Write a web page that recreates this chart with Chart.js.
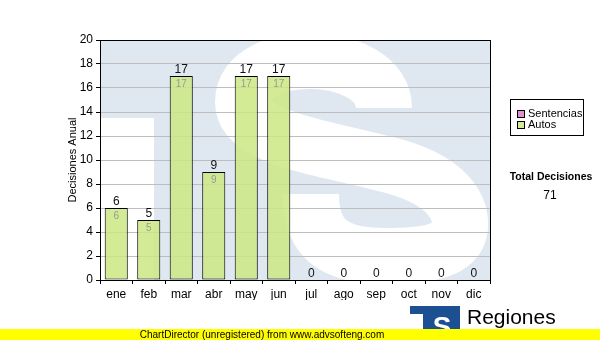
<!DOCTYPE html>
<html>
<head>
<meta charset="utf-8">
<script src="https://cdn.jsdelivr.net/npm/chart.js@4.4.1/dist/chart.umd.min.js"></script>
<style>
    body { margin: 0; background: #fff; }
    canvas { display: block; }
</style>
</head>
<body>
<canvas id="graficoDecisiones" width="600" height="340"></canvas>
<script>
const meses = ['ene', 'feb', 'mar', 'abr', 'may', 'jun', 'jul', 'ago', 'sep', 'oct', 'nov', 'dic'];
const sentencias = [0, 0, 0, 0, 0, 0, 0, 0, 0, 0, 0, 0];
const autos = [6, 5, 17, 9, 17, 17, 0, 0, 0, 0, 0, 0];
const ticksY = [0, 2, 4, 6, 8, 10, 12, 14, 16, 18, 20];
const totalDecisiones = 71;

const fuente = '"Liberation Sans", Arial, sans-serif';
const azulClaro = '#dfe8f1';

// marca de agua "TS" + leyenda, total y pie
const decorado = {
    id: 'decorado',
    beforeDraw(chart) {
        const ctx = chart.ctx;
        const a = chart.chartArea;
        ctx.save();
        ctx.beginPath();
        ctx.rect(a.left, a.top, a.right - a.left, a.bottom - a.top);
        ctx.clip();
        ctx.fillStyle = azulClaro;
        ctx.fillRect(a.left, a.top, a.right - a.left, a.bottom - a.top);
        // hueco blanco bajo el brazo de la T
        ctx.fillStyle = '#fff';
        ctx.fillRect(a.left, 118, 54, a.bottom - 118);
        // la S blanca
        ctx.strokeStyle = '#fff';
        ctx.lineWidth = 56;
        ctx.lineCap = 'butt';
        ctx.beginPath();
        ctx.moveTo(384, 108);
        ctx.bezierCurveTo(384, 48, 243, 45, 243, 102);
        ctx.bezierCurveTo(243, 140, 330, 148, 400, 168);
        ctx.bezierCurveTo(445, 182, 461, 205, 460, 226);
        ctx.bezierCurveTo(459, 252, 425, 256, 385, 256);
        ctx.bezierCurveTo(335, 256, 311, 240, 311, 194);
        ctx.stroke();
        ctx.restore();
    },
    afterDraw(chart) {
        const ctx = chart.ctx;
        const a = chart.chartArea;
        ctx.save();
        // marco del area
        ctx.strokeStyle = '#000';
        ctx.lineWidth = 1;
        ctx.strokeRect(a.left + 0.5, a.top + 0.5, a.right - a.left, a.bottom - a.top);

        // titulo eje Y
        ctx.translate(73, (a.top + a.bottom) / 2);
        ctx.rotate(-Math.PI / 2);
        ctx.fillStyle = '#000';
        ctx.font = '11px ' + fuente;
        ctx.textAlign = 'center';
        ctx.textBaseline = 'middle';
        ctx.fillText('Decisiones Anual', 0, 0);
        ctx.setTransform(1, 0, 0, 1, 0, 0);

        // leyenda
        ctx.strokeStyle = '#000';
        ctx.strokeRect(510.5, 99.5, 73, 36);
        ctx.font = '11px ' + fuente;
        ctx.textAlign = 'left';
        ctx.textBaseline = 'middle';
        const items = [['Sentencias', '#e08fd0', 114], ['Autos', '#d5eb95', 125]];
        items.forEach(function (it) {
            ctx.fillStyle = it[1];
            ctx.fillRect(517, it[2] - 4, 8, 8);
            ctx.strokeRect(517.5, it[2] - 3.5, 7, 7);
            ctx.fillStyle = '#000';
            ctx.fillText(it[0], 528, it[2]);
        });

        // total
        ctx.textAlign = 'center';
        ctx.font = 'bold 10.5px ' + fuente;
        ctx.fillText('Total Decisiones', 551, 177);
        ctx.font = '12px ' + fuente;
        ctx.fillText(String(totalDecisiones), 550, 196);

        // logo Regiones
        ctx.fillStyle = '#1d4f93';
        ctx.fillRect(410, 306, 50, 8);
        ctx.fillRect(423, 306, 37, 34);
        ctx.fillStyle = '#fff';
        ctx.font = 'bold 28px ' + fuente;
        ctx.textAlign = 'center';
        ctx.textBaseline = 'alphabetic';
        ctx.fillText('S', 442, 336);
        ctx.fillStyle = '#000';
        ctx.font = '21px ' + fuente;
        ctx.textAlign = 'left';
        ctx.fillText('Regiones', 467, 324);
        ctx.font = '9px ' + fuente;
        ctx.fillText('Tribunal Supremo de Justicia', 467, 336);

        // pie amarillo
        ctx.fillStyle = '#ffff00';
        ctx.fillRect(0, 329, 600, 11);
        ctx.fillStyle = '#000';
        ctx.font = '10px ' + fuente;
        ctx.textAlign = 'center';
        ctx.textBaseline = 'middle';
        ctx.fillText('ChartDirector (unregistered) from www.advsofteng.com', 262, 335);
        ctx.restore();
    },
    afterDatasetsDraw(chart) {
        const ctx = chart.ctx;
        const y = chart.scales.y;
        const metas = chart.getDatasetMeta(1).data;
        ctx.save();
        ctx.textAlign = 'center';
        meses.forEach(function (m, i) {
            const total = sentencias[i] + autos[i];
            const x = metas[i].x;
            const yTop = y.getPixelForValue(total);
            ctx.fillStyle = '#111';
            ctx.font = '12px ' + fuente;
            ctx.textBaseline = 'bottom';
            ctx.fillText(String(total), x, yTop);
            if (autos[i] > 0) {
                ctx.fillStyle = '#999';
                ctx.font = '10px ' + fuente;
                ctx.textBaseline = 'top';
                ctx.fillText(String(autos[i]), x, yTop + 3);
            }
        });
        ctx.restore();
    }
};

new Chart(document.getElementById('graficoDecisiones'), {
    type: 'bar',
    data: {
        labels: meses,
        datasets: [{
            label: 'Sentencias',
            data: sentencias,
            backgroundColor: '#e08fd0',
            borderWidth: 0
        }, {
            label: 'Autos',
            data: autos,
            backgroundColor: 'rgba(205, 231, 130, 0.85)',
            borderColor: '#000',
            borderWidth: 1,
            borderSkipped: false
        }]
    },
    options: {
        responsive: false,
        animation: false,
        events: [],
        layout: {
            padding: { left: 0, right: 110, top: 40, bottom: 40 }
        },
        datasets: {
            bar: { barPercentage: 1, categoryPercentage: 0.71 }
        },
        scales: {
            x: {
                stacked: true,
                afterFit(scale) { scale.height = 20; },
                grid: {
                    drawOnChartArea: false,
                    tickColor: '#000',
                    tickLength: 4
                },
                border: { color: '#000' },
                ticks: {
                    color: '#000',
                    padding: 3,
                    font: { family: fuente, size: 12 }
                }
            },
            y: {
                stacked: true,
                min: 0,
                max: 20,
                afterFit(scale) { scale.width = 100; },
                afterBuildTicks(scale) {
                    scale.ticks = ticksY.map(function (v) { return { value: v }; });
                },
                grid: {
                    color: '#bdbdbd',
                    tickColor: '#000',
                    tickLength: 4
                },
                border: { color: '#000' },
                ticks: {
                    color: '#000',
                    padding: 3,
                    font: { family: fuente, size: 12 }
                }
            }
        },
        plugins: {
            legend: { display: false },
            tooltip: { enabled: false }
        }
    },
    plugins: [decorado]
});
</script>
</body>
</html>
